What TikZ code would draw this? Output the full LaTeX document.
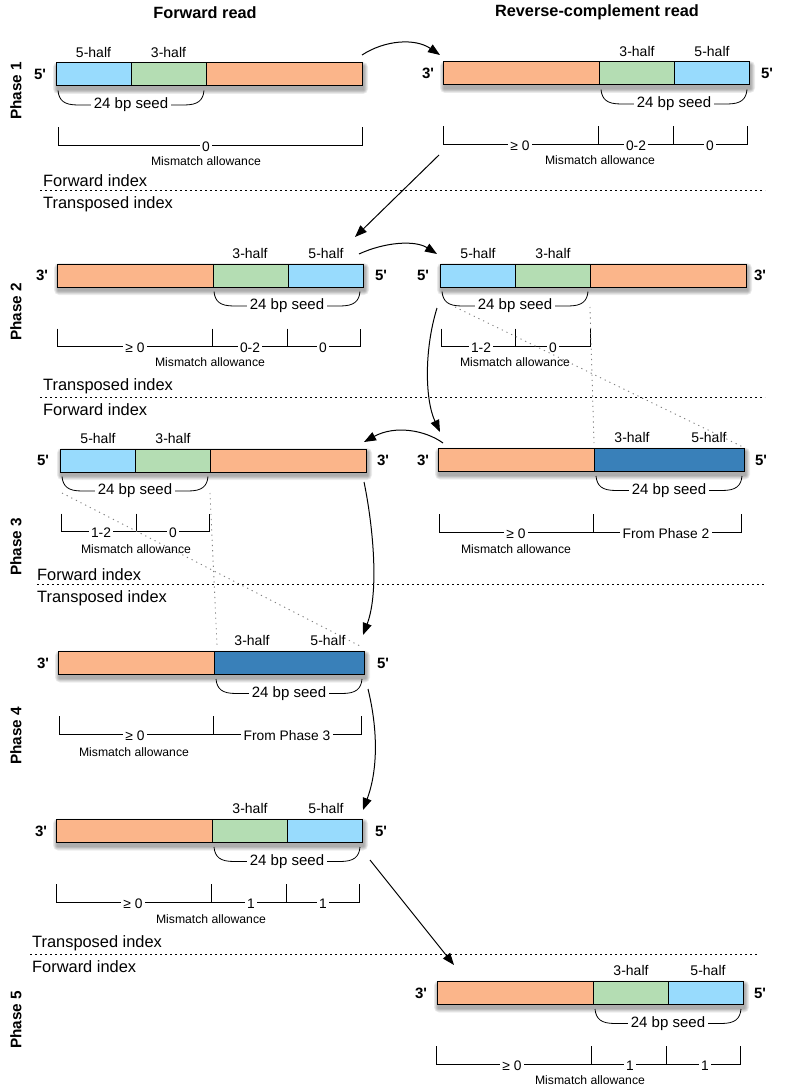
\documentclass[tikz,border=0pt]{standalone}
\usepackage{fontspec}
\setmainfont{Liberation Sans}
\usetikzlibrary{arrows.meta,calc}
\definecolor{lblue}{RGB}{152,219,253}
\definecolor{lgreen}{RGB}{180,221,179}
\definecolor{lorange}{RGB}{251,181,138}
\definecolor{dblue}{RGB}{57,128,185}
\tikzset{
  seg/.style={draw=black, line width=1pt, minimum height=23pt, inner sep=0pt, outer sep=0pt, anchor=west},
  hl/.style={font=\fontsize{14}{16}\selectfont, inner sep=0pt},
  endl/.style={font=\bfseries\fontsize{15}{17}\selectfont, inner sep=0pt},
  seedt/.style={fill=white, font=\fontsize{15}{17}\selectfont, inner sep=2.5pt},
  mmt/.style={fill=white, font=\fontsize{13.8}{15}\selectfont, inner sep=2.5pt},
  mat/.style={font=\fontsize{12.2}{14}\selectfont, inner sep=0pt},
  idx/.style={font=\fontsize{16.4}{18}\selectfont, anchor=west, inner sep=0pt},
  hdr/.style={font=\bfseries\fontsize{16.3}{18}\selectfont, inner sep=0pt},
  phase/.style={font=\bfseries\fontsize{15.3}{17}\selectfont, rotate=90, inner sep=0pt},
  brk/.style={line width=0.8pt},
  conn/.style={line width=1pt, -{Triangle[length=12pt,width=9pt]}},
  sepline/.style={line width=0.9pt, dash pattern=on 2pt off 3pt},
  guide/.style={gray, line width=0.9pt, dash pattern=on 1.2pt off 4pt}
}
\newcommand\barshadow[3]{%
  \foreach \k in {1,...,5}{%
    \fill[black, opacity=0.075, rounded corners=\k pt]
      ({#1+1.5-\k*0.9},{#3-11.5+3.5-\k*0.9}) rectangle ({#2+1.5+\k*0.9},{#3+11.5+3.5+\k*0.9});
  }%
}
\newcommand\seedbrace[4]{%
  \draw[brk] ({#2},{#4+16}) .. controls ({#2+1},{#4+26}) and ({#2+6},{#4+30.5}) .. ({#2+20},{#4+30.5})
     -- ({#3-20},{#4+30.5}) .. controls ({#3-6},{#4+30.5}) and ({#3-1},{#4+26}) .. ({#3},{#4+16});
  \node[seedt] (#1) at ({(#2+#3)/2},{#4+30.5}) {24 bp seed};
}
\begin{document}
\begin{tikzpicture}[x=1pt,y=-1pt]
\useasboundingbox (0,0) rectangle (785,1089);

% headers and phases
\node[hdr] (h1) at (205,12.5) {Forward read};
\node[hdr] (h2) at (597,12.5) {Reverse-complement read};
\node[phase] (ph1) at (16,91) {Phase 1};
\node[phase] (ph2) at (16,312) {Phase 2};
\node[phase] (ph3) at (16,547) {Phase 3};
\node[phase] (ph4) at (16,736) {Phase 4};
\node[phase] (ph5) at (16,1020) {Phase 5};

% ---------- Phase 1 forward ----------
\barshadow{56}{362}{74.5}
\node[seg,fill=lblue,minimum width=75pt] (f1a) at (56,74.5) {};
\node[seg,fill=lgreen,minimum width=75pt] (f1b) at (f1a.east) {};
\node[seg,fill=lorange,minimum width=156pt] (f1c) at (f1b.east) {};
\node[endl] (f1l) at (40,74.5) {5\textquotesingle};
\node[hl] (f1h1) at (93.5,52) {5-half};
\node[hl] (f1h2) at (168.5,52) {3-half};
\seedbrace{f1s}{58}{204}{74.5}
\draw[brk] (58,127.5) -- (58,145.5) -- (362,145.5) -- (362,127.5);
\node[mmt] (f1m1) at (206,147) {0};
\node[mat] (f1ma) at (206,161.5) {Mismatch allowance};

% ---------- Phase 1 reverse complement ----------
\barshadow{443}{749}{73.5}
\node[seg,fill=lorange,minimum width=156pt] (r1a) at (443,73.5) {};
\node[seg,fill=lgreen,minimum width=75pt] (r1b) at (r1a.east) {};
\node[seg,fill=lblue,minimum width=75pt] (r1c) at (r1b.east) {};
\node[endl] (r1l) at (428,73.5) {3\textquotesingle};
\node[endl] (r1r) at (767,73.5) {5\textquotesingle};
\node[hl] (r1h1) at (637,51) {3-half};
\node[hl] (r1h2) at (712,51) {5-half};
\seedbrace{r1s}{601}{747}{73.5}
\draw[brk] (443,126.5) -- (443,144.5) -- (747,144.5) -- (747,126.5);
\draw[brk] (598,126.5) -- (598,144.5);
\draw[brk] (673,126.5) -- (673,144.5);
\node[mmt] (r1m1) at (520,146) {≥ 0};
\node[mmt] (r1m2) at (636,146) {0-2};
\node[mmt] (r1m3) at (710,146) {0};
\node[mat] (r1ma) at (600,160.5) {Mismatch allowance};

% index separator 1
\node[idx] (i1a) at (43,181) {Forward index};
\coordinate (s1a) at (40,190); \coordinate (s1b) at (765,190);
\draw[sepline] (s1a) -- (s1b);
\node[idx] (i1b) at (43,204) {Transposed index};

% ---------- Phase 2 left ----------
\barshadow{57}{363}{275.5}
\node[seg,fill=lorange,minimum width=156pt] (f2a) at (57,275.5) {};
\node[seg,fill=lgreen,minimum width=75pt] (f2b) at (f2a.east) {};
\node[seg,fill=lblue,minimum width=75pt] (f2c) at (f2b.east) {};
\node[endl] (f2l) at (42,275.5) {3\textquotesingle};
\node[endl] (f2r) at (381,275.5) {5\textquotesingle};
\node[hl] (f2h1) at (250,253) {3-half};
\node[hl] (f2h2) at (326,253) {5-half};
\seedbrace{f2s}{214}{360}{275.5}
\draw[brk] (57,328.5) -- (57,346.5) -- (360,346.5) -- (360,328.5);
\draw[brk] (212,328.5) -- (212,346.5);
\draw[brk] (287,328.5) -- (287,346.5);
\node[mmt] (f2m1) at (135,348) {≥ 0};
\node[mmt] (f2m2) at (250,348) {0-2};
\node[mmt] (f2m3) at (323,348) {0};
\node[mat] (f2ma) at (210,362.5) {Mismatch allowance};

% ---------- Phase 2 right ----------
\barshadow{440}{746}{275.5}
\node[seg,fill=lblue,minimum width=75pt] (r2a) at (440,275.5) {};
\node[seg,fill=lgreen,minimum width=75pt] (r2b) at (r2a.east) {};
\node[seg,fill=lorange,minimum width=156pt] (r2c) at (r2b.east) {};
\node[endl] (r2l) at (423,275.5) {5\textquotesingle};
\node[endl] (r2r) at (760,275.5) {3\textquotesingle};
\node[hl] (r2h1) at (478,253) {5-half};
\node[hl] (r2h2) at (553,253) {3-half};
\seedbrace{r2s}{442}{588}{275.5}
\draw[brk] (441,328.5) -- (441,346.5) -- (590,346.5) -- (590,328.5);
\draw[brk] (515,328.5) -- (515,346.5);
\node[mmt] (r2m1) at (481,348) {1-2};
\node[mmt] (r2m2) at (553,348) {0};
\node[mat] (r2ma) at (515,362.5) {Mismatch allowance};

% index separator 2
\node[idx] (i2a) at (43,386) {Transposed index};
\coordinate (s2a) at (40,397); \coordinate (s2b) at (765,397);
\draw[sepline] (s2a) -- (s2b);
\node[idx] (i2b) at (43,410) {Forward index};

% ---------- Phase 3 left ----------
\barshadow{60}{366}{460.5}
\node[seg,fill=lblue,minimum width=75pt] (f3a) at (60,460.5) {};
\node[seg,fill=lgreen,minimum width=75pt] (f3b) at (f3a.east) {};
\node[seg,fill=lorange,minimum width=156pt] (f3c) at (f3b.east) {};
\node[endl] (f3l) at (43,460.5) {5\textquotesingle};
\node[endl] (f3r) at (383,460.5) {3\textquotesingle};
\node[hl] (f3h1) at (98,438) {5-half};
\node[hl] (f3h2) at (173,438) {3-half};
\seedbrace{f3s}{62}{208}{460.5}
\draw[brk] (61,513.5) -- (61,531.5) -- (209,531.5) -- (209,513.5);
\draw[brk] (136,513.5) -- (136,531.5);
\node[mmt] (f3m1) at (101,533) {1-2};
\node[mmt] (f3m2) at (173,533) {0};
\node[mat] (f3ma) at (136,549.5) {Mismatch allowance};

% ---------- Phase 3 right ----------
\barshadow{438}{744}{460}
\node[seg,fill=lorange,minimum width=156pt] (r3a) at (438,460) {};
\node[seg,fill=dblue,minimum width=150pt] (r3b) at (r3a.east) {};
\node[endl] (r3l) at (423,460) {3\textquotesingle};
\node[endl] (r3r) at (761,460) {5\textquotesingle};
\node[hl] (r3h1) at (632,437) {3-half};
\node[hl] (r3h2) at (709,437) {5-half};
\seedbrace{r3s}{596}{742}{460}
\draw[brk] (439,514) -- (439,532) -- (741,532) -- (741,514);
\draw[brk] (593,514) -- (593,532);
\node[mmt] (r3m1) at (516,533.5) {≥ 0};
\node[mmt] (r3m2) at (666,533.5) {From Phase 2};
\node[mat] (r3ma) at (516,549.5) {Mismatch allowance};

% index separator 3
\node[idx] (i3a) at (37,575) {Forward index};
\coordinate (s3a) at (37,584); \coordinate (s3b) at (765,584);
\draw[sepline] (s3a) -- (s3b);
\node[idx] (i3b) at (37,598) {Transposed index};

% ---------- Phase 4 ----------
\barshadow{58}{364}{663}
\node[seg,fill=lorange,minimum width=156pt] (f4a) at (58,663) {};
\node[seg,fill=dblue,minimum width=150pt] (f4b) at (f4a.east) {};
\node[endl] (f4l) at (43,663) {3\textquotesingle};
\node[endl] (f4r) at (383,663) {5\textquotesingle};
\node[hl] (f4h1) at (252,640) {3-half};
\node[hl] (f4h2) at (328,640) {5-half};
\seedbrace{f4s}{216}{362}{663}
\draw[brk] (59,716) -- (59,734) -- (361,734) -- (361,716);
\draw[brk] (213,716) -- (213,734);
\node[mmt] (f4m1) at (135,735.5) {≥ 0};
\node[mmt] (f4m2) at (287,735.5) {From Phase 3};
\node[mat] (f4ma) at (134,752.5) {Mismatch allowance};

% ---------- Phase 4 second read ----------
\barshadow{56}{362}{831}
\node[seg,fill=lorange,minimum width=156pt] (g4a) at (56,831) {};
\node[seg,fill=lgreen,minimum width=75pt] (g4b) at (g4a.east) {};
\node[seg,fill=lblue,minimum width=75pt] (g4c) at (g4b.east) {};
\node[endl] (g4l) at (41,831) {3\textquotesingle};
\node[endl] (g4r) at (381,831) {5\textquotesingle};
\node[hl] (g4h1) at (250,808) {3-half};
\node[hl] (g4h2) at (326,808) {5-half};
\seedbrace{g4s}{214}{360}{831}
\draw[brk] (56,884) -- (56,902) -- (359,902) -- (359,884);
\draw[brk] (211,884) -- (211,902);
\draw[brk] (286,884) -- (286,902);
\node[mmt] (g4m1) at (133,903.5) {≥ 0};
\node[mmt] (g4m2) at (251,903.5) {1};
\node[mmt] (g4m3) at (323,903.5) {1};
\node[mat] (g4ma) at (211,919) {Mismatch allowance};

% index separator 4
\node[idx] (i4a) at (32,943) {Transposed index};
\coordinate (s4a) at (30,954); \coordinate (s4b) at (757,954);
\draw[sepline] (s4a) -- (s4b);
\node[idx] (i4b) at (32,967) {Forward index};

% ---------- Phase 5 ----------
\barshadow{437}{743}{993}
\node[seg,fill=lorange,minimum width=156pt] (r5a) at (437,993) {};
\node[seg,fill=lgreen,minimum width=75pt] (r5b) at (r5a.east) {};
\node[seg,fill=lblue,minimum width=75pt] (r5c) at (r5b.east) {};
\node[endl] (r5l) at (421,993) {3\textquotesingle};
\node[endl] (r5r) at (760,993) {5\textquotesingle};
\node[hl] (r5h1) at (631,970) {3-half};
\node[hl] (r5h2) at (708,970) {5-half};
\seedbrace{r5s}{595}{741}{993}
\draw[brk] (436,1046) -- (436,1064) -- (740,1064) -- (740,1046);
\draw[brk] (591,1046) -- (591,1064);
\draw[brk] (666,1046) -- (666,1064);
\node[mmt] (r5m1) at (512,1065.5) {≥ 0};
\node[mmt] (r5m2) at (630,1065.5) {1};
\node[mmt] (r5m3) at (705,1065.5) {1};
\node[mat] (r5ma) at (590,1080.5) {Mismatch allowance};

% ---------- guides ----------
\coordinate (g1a) at (455,307); \coordinate (g1b) at (743,447);
\coordinate (g1c) at (590,307); \coordinate (g1d) at (594,443);
\coordinate (g2a) at (62,493);  \coordinate (g2b) at (362,647);
\coordinate (g2c) at (210,493); \coordinate (g2d) at (217,645);
\draw[guide] (g1a) -- (g1b);
\draw[guide] (g1c) -- (g1d);
\draw[guide] (g2a) -- (g2b);
\draw[guide] (g2c) -- (g2d);

% ---------- connectors ----------
\coordinate (c1s) at (362,55);  \coordinate (c1e) at (440,55);
\coordinate (c2s) at (439,155); \coordinate (c2e) at (355,237);
\coordinate (c3s) at (359,254); \coordinate (c3e) at (437,254);
\coordinate (c4s) at (437,308); \coordinate (c4e) at (440,432);
\coordinate (c5s) at (443,443); \coordinate (c5e) at (364,442);
\coordinate (c6s) at (364,482); \coordinate (c6e) at (363,635);
\coordinate (c7s) at (368,689); \coordinate (c7e) at (363,810);
\coordinate (c8s) at (370,860); \coordinate (c8e) at (454,965);
\draw[conn] (c1s) .. controls (385,40) and (415,38) .. (c1e);
\draw[conn] (c2s) -- (c2e);
\draw[conn] (c3s) .. controls (385,242) and (415,240) .. (c3e);
\draw[conn] (c4s) .. controls (424,350) and (425,400) .. (c4e);
\draw[conn] (c5s) .. controls (425,430) and (395,425) .. (c5e);
\draw[conn] (c6s) .. controls (372,520) and (380,590) .. (c6e);
\draw[conn] (c7s) .. controls (378,730) and (378,770) .. (c7e);
\draw[conn] (c8s) -- (c8e);
\end{tikzpicture}
\end{document}
